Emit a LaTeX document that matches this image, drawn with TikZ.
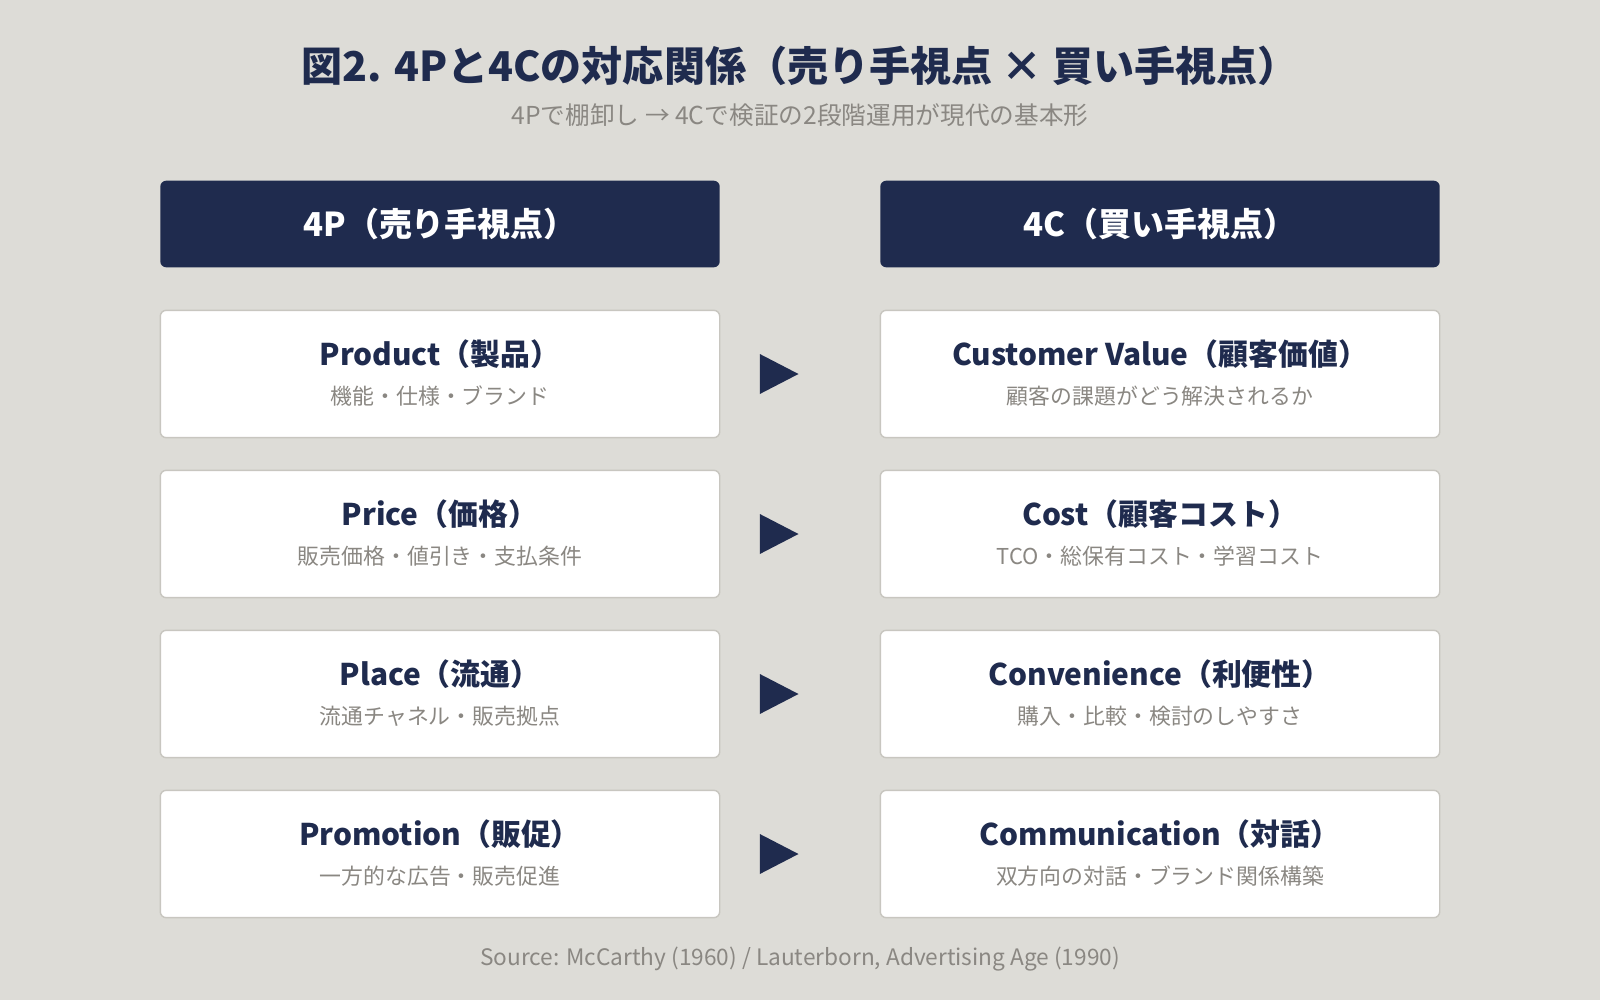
\documentclass[tikz,border=0pt]{standalone}
\usepackage{fontspec}
\setmainfont{Noto Sans CJK JP}
\usetikzlibrary{shapes.geometric}
\definecolor{bg}{HTML}{DDDCD7}
\definecolor{navy}{HTML}{1F2B4E}
\definecolor{graytxt}{HTML}{8A8782}
\definecolor{bordergray}{HTML}{C8C6C0}
\tikzset{
  headbox/.style={fill=navy, rounded corners=4.5pt, minimum width=419.6pt, minimum height=65pt, inner sep=0pt, text=white, font=\bfseries\fontsize{24.7}{29}\selectfont},
  rowbox/.style={fill=white, draw=bordergray, line width=1.1pt, rounded corners=4.5pt, minimum width=419.6pt, minimum height=95.5pt, inner sep=0pt},
  rowtitle/.style={text=navy, font=\bfseries\fontsize{22.4}{27}\selectfont, inner sep=0pt},
  rowsub/.style={text=graytxt, font=\fontsize{16.4}{20}\selectfont, inner sep=0pt},
  tri/.style={shape=isosceles triangle, isosceles triangle stretches, fill=navy, minimum width=30pt, minimum height=29pt, inner sep=0pt},
}
\begin{document}
\begin{tikzpicture}[x=0.75pt,y=-0.75pt]
\fill[bg] (0,0) rectangle (1600,1000);
\useasboundingbox (0,0) rectangle (1600,1000);
% title
\node[text=navy, font=\bfseries\fontsize{30.8}{36}\selectfont, inner sep=0pt] (title) at (800,66) {図2. 4Pと4Cの対応関係（売り手視点 × 買い手視点）};
\node[text=graytxt, font=\fontsize{18.5}{22}\selectfont, inner sep=0pt] (subtitle) at (800,115) {4Pで棚卸し → 4Cで検証の2段階運用が現代の基本形};
% headers
\node[headbox] (h4p) at (440,224) {4P（売り手視点）};
\node[headbox] (h4c) at (1160,224) {4C（買い手視点）};
% rows
\foreach \i/\y/\pt/\ps/\ct/\cs in {
  1/374/Product（製品）/機能・仕様・ブランド/Customer Value（顧客価値）/顧客の課題がどう解決されるか,
  2/534/Price（価格）/販売価格・値引き・支払条件/Cost（顧客コスト）/TCO・総保有コスト・学習コスト,
  3/694/Place（流通）/流通チャネル・販売拠点/Convenience（利便性）/購入・比較・検討のしやすさ,
  4/854/Promotion（販促）/一方的な広告・販売促進/Communication（対話）/双方向の対話・ブランド関係構築}{
  \node[rowbox] (p\i) at (440,\y) {};
  \node[rowtitle] (p\i t) at (440,\y-20) {\pt};
  \node[rowsub] (p\i s) at (440,\y+22) {\ps};
  \node[rowbox] (c\i) at (1160,\y) {};
  \node[rowtitle] (c\i t) at (1160,\y-20) {\ct};
  \node[rowsub] (c\i s) at (1160,\y+22) {\cs};
  \node[tri] (a\i) at (772,\y) {};
}
\node[text=graytxt, font=\fontsize{17}{20}\selectfont, inner sep=0pt] (source) at (800,959) {Source: McCarthy (1960) / Lauterborn, Advertising Age (1990)};
\end{tikzpicture}
\end{document}
